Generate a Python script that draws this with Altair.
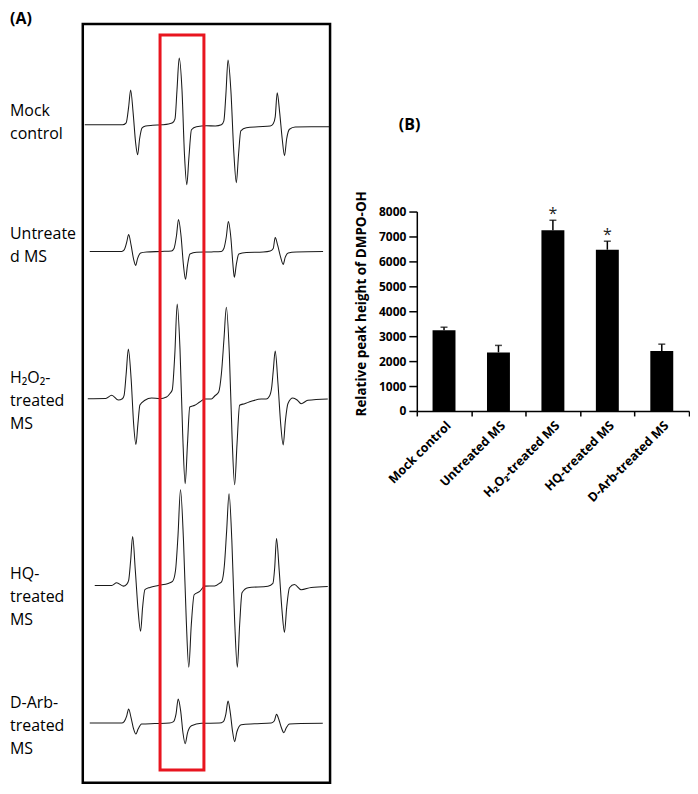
import altair as alt
import pandas as pd

FONT = "Open Sans"

# ---------------- Panel A: ESR spectra (field position, relative signal) ----------------
sample_ids = ["mock", "untreated", "h2o2", "hq", "darb"]
panel_labels = ["Mock\ncontrol", "Untreate\nd MS", "H\u2082O\u2082-\ntreated\nMS",
                "HQ-\ntreated\nMS", "D-Arb-\ntreated\nMS"]

mock_x = [83, 110, 121, 124.5, 127, 129, 131.5, 134, 136, 138, 140.5, 144, 151, 160, 167, 171,
          173.5, 175.5, 177.7, 180.5, 183, 185.3, 187.5, 190, 195, 205, 214, 220, 222.5, 224.5,
          226.7, 229.5, 232.5, 235, 237.2, 239.5, 245, 257, 269, 272, 274, 276, 278.5, 281,
          283.3, 285.5, 288.3, 294, 310, 328]
mock_i = [0, 0, 0, 2, 18, 35, 12, -18, -30, -14, -3, -1.3, -0.5, 0, 0.8, 2, 6, 35, 67, 35,
          -30, -60, -32, -5, -2, -1, -1.2, 0, 4, 30, 65, 35, -28, -58, -30, -6, -3, -2, -1.3,
          1, 8, 32, 12, -14, -31, -14, -4.5, -2.3, -2, -2]

unt_x = [88, 120, 122.5, 125, 127, 129.5, 132, 134, 136, 139, 145, 160, 170, 172.5, 175, 177,
         179.5, 182, 184, 186, 188.5, 195, 210, 220, 222.5, 225, 227, 229.5, 231.5, 233, 235,
         237.5, 245, 262, 269, 272, 274, 276.5, 279.5, 282, 284, 287, 295, 322]
unt_i = [0, 0, 1.5, 9, 17, 6, -8, -14, -7, -1.5, -0.5, 0, 0.5, 3, 16, 32, 16, -14, -28, -14,
         -2.5, -0.8, -0.5, 0, 3, 15, 30, 14, -12, -26, -13, -2.5, -1, -0.5, 0.5, 3, 14, 6, -6,
         -13, -6, -1.5, -0.5, 0]

h2o2_x = [86, 104, 110, 116.7, 120.7, 122.5, 124.5, 126.7, 129.5, 132, 134.3, 136.3, 138.3,
          143.3, 150, 158.3, 165, 168.3, 170.7, 173.3, 175.7, 178.5, 181.2, 183.7, 186, 188.3,
          193.3, 198.3, 203.3, 210, 213.3, 217.3, 220, 222.6, 225, 228, 230.8, 233.3, 235.7,
          238.3, 243.3, 250, 260, 265, 268.3, 270.5, 272, 274, 276.8, 279.5, 282, 284.2, 286.7,
          291.7, 296, 300, 306.7, 326.7]
h2o2_i = [0.3, 0.5, 3.7, -1, 0.3, 4, 25, 50, 20, -25, -45.7, -25, -6, -1.3, 1, 0.3, 2, 5.3, 9,
          45, 95.3, 50, -35, -85, -45, -8, -6.3, -3, 0, 0, 3, 7, 25, 60, 92, 45, -40, -86, -45,
          -6.3, -4.7, -2.3, 0, 0, 3, 12, 28, 48, 15, -25, -46, -22, -4.7, 1, -1, -4.7, -1.3, 0]

hq_x = [93, 110, 115, 121.7, 125, 127, 129, 131, 133.7, 136.5, 139, 141, 143.3, 148.3, 156.7,
        166.7, 171, 174, 176.5, 179, 182, 184.8, 187.3, 189.8, 192.7, 198.3, 203.3, 213.3, 218,
        220.5, 223, 225.3, 227.7, 230.5, 233.3, 236, 238.3, 240.7, 246.7, 266.7, 271.7, 273.5,
        275.3, 278, 280.8, 283.3, 285.5, 288.3, 293.3, 300, 310, 326.7]
hq_i = [0, 0, 2.7, -0.7, 1, 5, 25, 49, 15, -25, -46, -22, -4.3, -2, 0, 2, 4, 15, 50, 96, 45,
        -35, -82, -40, -9.3, -6, -0.7, -0.5, 2, 4.3, 20, 55, 92, 45, -35, -82, -40, -7.3, -2.3,
        -0.7, 2, 18, 47, 15, -25, -47, -22, -2.3, 1, -4.3, -2, -1]

darb_x = [88, 120, 122.5, 125, 127, 129.5, 132, 134.3, 136.5, 140, 153.3, 168, 172, 174.5,
          176.7, 179.2, 181.5, 183.7, 186, 190, 200, 218, 222, 224.5, 226.7, 229, 231.3, 233.3,
          235.5, 240, 253.3, 270, 273, 275.3, 277.8, 280.3, 282.7, 285, 288.3, 300, 321.7]
darb_i = [0, 0, 1.5, 7, 14, 5, -6, -11, -6, -1, -0.5, 0, 1.5, 9, 24, 12, -10, -20.7, -10, -2.7,
          -0.3, 0, 1.5, 9, 22, 10, -9, -18.7, -9, -1.7, -0.8, 0, 2, 8.7, 3, -5, -9.7, -5, -1,
          -0.5, -0.3]

spectra = {"mock": (mock_x, mock_i), "untreated": (unt_x, unt_i), "h2o2": (h2o2_x, h2o2_i),
           "hq": (hq_x, hq_i), "darb": (darb_x, darb_i)}

# ---------------- Panel B: bar chart values ----------------
groups = ["Mock control", "Untreated MS", "H\u2082O\u2082-treated MS", "HQ-treated MS",
          "D-Arb-treated MS"]
means = [3240, 2350, 7250, 6470, 2410]
errors = [120, 280, 400, 340, 270]
marks = ["", "", "*", "*", ""]
y_ticks = [0, 1000, 2000, 3000, 4000, 5000, 6000, 7000, 8000]

# ---------------- layout (not data) ----------------
X_DOM = [81, 329]        # field window shown in panel A
Y_DOM = [21, 782]        # vertical window of panel A (stacked traces)
baselines = [122, 249, 397, 584, 722]
label_first_line = [108, 232, 376, 573, 702]
highlight = {"x1": 158.5, "x2": 202.5, "y1": 32, "y2": 769}

rows = []
for sid, base in zip(sample_ids, baselines):
    xs, ys = spectra[sid]
    for xv, iv in zip(xs, ys):
        rows.append({"sample": sid, "field": xv, "pos": base - iv})
trace_df = pd.DataFrame(rows)

xs_scale = alt.Scale(domain=X_DOM, nice=False, zero=False)
ys_scale = alt.Scale(domain=Y_DOM, nice=False, zero=False, reverse=True)

traces = alt.Chart(trace_df).mark_line(
    interpolate="monotone", strokeWidth=1.05, color="#1a1a1a"
).encode(
    x=alt.X("field:Q", scale=xs_scale, axis=None),
    y=alt.Y("pos:Q", scale=ys_scale, axis=None),
    detail="sample:N",
)

rect = alt.Chart(pd.DataFrame([highlight])).mark_rect(
    filled=False, stroke="#e8151f", strokeWidth=3
).encode(
    x=alt.X("x1:Q", scale=xs_scale, axis=None), x2="x2:Q",
    y=alt.Y("y1:Q", scale=ys_scale, axis=None), y2="y2:Q",
)

lab_df = pd.DataFrame({"label": panel_labels, "first": label_first_line})
labels = alt.Chart(lab_df).mark_text(
    align="left", baseline="middle", lineBreak="\n", lineHeight=23,
    fontSize=16, font=FONT, color="black"
).encode(
    x=alt.value(-73),
    y=alt.Y("first:Q", scale=ys_scale, axis=None),
    text="label:N",
)

tag_a = alt.Chart(pd.DataFrame({"t": ["(A)"]})).mark_text(
    align="left", baseline="top", fontSize=16, fontWeight="bold", font=FONT, color="black"
).encode(x=alt.value(-73), y=alt.value(-13), text="t:N")

panel_a = alt.layer(traces, rect, labels, tag_a).properties(
    width=248, height=761,
    view=alt.ViewBackground(stroke="black", strokeWidth=2.5),
)

# ---------------- Panel B ----------------
bar_df = pd.DataFrame({"group": groups, "mean": means, "err": errors, "mark": marks})
bar_df["top"] = bar_df["mean"] + bar_df["err"]

x_axis = alt.Axis(title=None, labelAngle=-45, labelFont=FONT, labelFontWeight="bold",
                  labelFontSize=12.5, labelColor="black", domainColor="black", domainWidth=1.5,
                  tickColor="black", tickWidth=1.5, tickSize=5, tickBand="extent",
                  labelPadding=3)
x_enc = alt.X("group:N", sort=groups, scale=alt.Scale(paddingInner=0, paddingOuter=0),
              axis=x_axis)
y_scale = alt.Scale(domain=[0, 8000], nice=False)
y_axis = alt.Axis(title="Relative peak height of DMPO-OH", values=y_ticks, tickCount=9,
                  format="d", grid=False, labelOverlap=False, labelFont=FONT,
                  labelFontWeight="bold", labelFontSize=12, labelColor="black",
                  domainColor="black", domainWidth=1.5, tickColor="black", tickWidth=1.5,
                  tickSize=8, labelPadding=3, titleFont=FONT, titleFontWeight="bold",
                  titleFontSize=13.5, titleColor="black", titlePadding=10, titleY=92)

base = alt.Chart(bar_df)
bars = base.mark_bar(size=23, color="black").encode(
    x=x_enc, y=alt.Y("mean:Q", scale=y_scale, axis=y_axis))
err_line = base.mark_rule(color="black", strokeWidth=1.5).encode(
    x=x_enc, y=alt.Y("mean:Q", scale=y_scale, axis=y_axis), y2="top:Q")
err_cap = base.mark_tick(color="black", size=7, thickness=1.5).encode(
    x=x_enc, y=alt.Y("top:Q", scale=y_scale, axis=y_axis))
stars = base.mark_text(fontSize=16, font=FONT, color="#222", baseline="alphabetic", dy=-1).encode(
    x=x_enc, y=alt.Y("top:Q", scale=y_scale, axis=y_axis), text="mark:N")

bar_chart = alt.layer(bars, err_line, err_cap, stars).properties(width=273, height=200)

tag_b = alt.Chart(pd.DataFrame({"t": ["(B)"]})).mark_text(
    align="left", baseline="middle", fontSize=16, fontWeight="bold", font=FONT, color="black"
).encode(x=alt.value(-18), y=alt.value(101), text="t:N").properties(width=273, height=188)

panel_b = alt.vconcat(tag_b, bar_chart, spacing=0, bounds="flush")

chart = alt.hconcat(panel_a, panel_b, spacing=87, bounds="flush").properties(
    padding=0
).configure_view(strokeWidth=0)

chart.save("out.html", embed_options={"renderer": "svg", "actions": False})
